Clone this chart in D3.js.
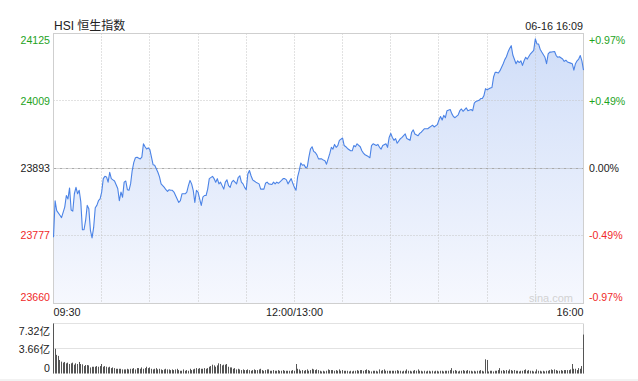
<!DOCTYPE html>
<html><head><meta charset="utf-8">
<script src="https://cdn.jsdelivr.net/npm/d3@7/dist/d3.min.js"></script>
<style>
body{margin:0;background:#fff}
svg{display:block}
text{font-family:"Liberation Sans",Arial,"Noto Sans CJK SC",sans-serif}
</style>
</head><body>
<svg id="c" width="638" height="381"></svg>
<script>
// ---- data ----
const title = "HSI 恒生指数";
const stamp = "06-16 16:09";
const prevClose = 23893;
const priceTicks = [23660, 23777, 23893, 24009, 24125];
const priceTickLabels = ["23660", "23777", "23893", "24009", "24125"];
const pctTickLabels = ["-0.97%", "-0.49%", "0.00%", "+0.49%", "+0.97%"];
const timeGrid = [30, 60, 90, 120, 150, 180, 210, 240, 270, 300];
const timeLabelMinutes = [0, 150, 330];
const timeLabels = ["09:30", "12:00/13:00", "16:00"];
const volTicks = [0, 3.66, 7.32];
const volTickLabels = ["0", "3.66亿", "7.32亿"];

// trading minutes since 09:30 (lunch break removed)
const minutes = [0,1,2,4,5,6,7,8,9,10,11,12,13,14,15,16,17,18,19,20,21,22,23,24,25,26,27,28,29,30,
31,32,33,34,35,36,37,38,40,41,42,43,44,45,46,47,48,49,50,51,52,54,55,56,57,58,59,60,
61,62,63,64,65,66,67,68,69,70,71,72,73,74,75,77,78,79,80,82,83,84,85,86,87,88,89,90,
91,92,93,94,95,96,97,99,100,101,102,103,104,105,106,107,108,109,110,111,112,114,115,116,117,118,119,120,
121,122,123,124,125,126,128,129,131,132,133,134,136,137,138,139,140,142,143,144,145,146,148,149,150,
151,152,153,154,155,156,157,158,159,160,161,162,163,164,165,167,168,169,170,172,173,174,175,176,177,178,180,
181,182,183,185,186,187,188,189,191,192,193,194,196,197,198,199,201,202,203,204,205,207,208,209,210,
211,212,213,214,216,217,218,219,220,222,223,224,225,227,228,229,230,231,233,234,235,236,237,239,240,
241,242,243,244,245,247,248,249,250,252,253,254,255,256,257,258,260,261,262,263,265,266,267,268,269,270,
272,273,274,275,276,277,278,280,281,282,283,284,285,286,288,289,290,291,292,293,294,295,297,298,299,300,
301,302,303,304,306,307,308,309,310,312,313,314,315,317,318,319,320,322,323,324,325,326,327,328,329,330];
const prices = [23774,23837,23820,23812,23808,23817,23826,23846,23840,23859,23821,23819,23849,23860,23849,23855,23835,23787,23787,23803,23829,23823,23786,23773,23791,23825,23829,23837,23840,23852,
23875,23879,23878,23869,23886,23875,23873,23871,23858,23837,23852,23843,23869,23871,23856,23855,23866,23889,23903,23911,23912,23909,23912,23935,23930,23926,23928,23925,
23912,23899,23898,23892,23886,23878,23866,23863,23860,23856,23853,23856,23855,23855,23852,23840,23834,23837,23849,23849,23852,23863,23872,23866,23855,23834,23855,23852,
23840,23829,23843,23846,23846,23857,23875,23879,23875,23869,23875,23866,23869,23863,23857,23869,23873,23863,23860,23869,23872,23866,23877,23880,23869,23866,23860,23856,
23883,23889,23880,23873,23871,23869,23866,23857,23857,23867,23869,23866,23865,23869,23866,23869,23867,23872,23875,23875,23873,23866,23875,23867,23860,
23855,23878,23889,23902,23898,23899,23894,23895,23912,23926,23930,23922,23920,23916,23909,23909,23907,23906,23900,23918,23929,23926,23934,23929,23932,23941,23945,
23932,23930,23927,23923,23923,23932,23930,23935,23930,23923,23919,23916,23913,23911,23932,23935,23932,23934,23929,23926,23932,23935,23929,23946,23953,
23946,23941,23944,23936,23944,23946,23949,23952,23944,23941,23955,23959,23952,23949,23953,23955,23958,23961,23961,23963,23965,23967,23964,23968,23976,
23982,23976,23984,23980,23992,23994,23987,23982,23980,23985,23992,23995,23991,23994,23997,23992,23994,23992,24005,24008,24010,24013,24013,24018,24030,24028,
24031,24032,24050,24058,24058,24057,24061,24073,24080,24085,24093,24099,24104,24088,24073,24078,24075,24078,24070,24078,24084,24081,24090,24093,24096,24116,
24107,24107,24098,24093,24084,24073,24090,24093,24093,24094,24087,24084,24085,24081,24077,24079,24076,24074,24073,24062,24073,24078,24081,24087,24078,24062];

// volume per minute, 亿 (index = trading minute)
const volumes = [7.32,3.62,2.73,2.58,1.98,1.74,1.59,1.69,1.49,1.59,1.39,1.49,1.59,1.29,1.49,1.39,1.69,1.39,1.34,1.09,1.24,1.24,1.19,0.89,0.99,0.99,0.99,
1.09,0.99,1.09,1.39,0.99,1.09,0.99,0.89,0.99,0.79,0.89,0.79,0.69,0.69,0.69,0.69,0.60,0.60,0.60,0.69,0.60,0.69,0.69,0.79,0.60,0.79,0.79,
0.69,0.89,0.69,0.79,0.99,0.79,0.89,0.69,0.60,0.69,0.79,0.60,0.69,0.60,0.50,0.60,0.69,0.60,0.60,0.50,0.60,0.50,0.60,0.69,0.50,0.40,0.40,
0.60,0.40,0.50,0.40,0.69,0.50,0.60,0.69,0.79,0.69,0.79,0.69,0.69,0.79,0.69,0.79,0.99,1.09,1.29,1.19,0.99,1.19,1.49,1.39,1.19,1.29,1.29,
1.39,0.99,0.89,0.89,0.69,0.79,0.60,0.69,0.60,0.50,0.60,0.50,0.50,0.60,0.50,0.40,0.50,0.60,0.50,0.50,0.60,0.69,0.50,0.40,0.50,0.60,0.60,
0.40,0.40,0.50,0.40,0.40,0.50,0.40,0.40,0.50,0.40,0.40,0.40,0.40,0.40,0.50,0.40,
1.39,0.69,0.60,0.40,0.50,0.40,0.50,0.60,0.40,0.50,0.69,0.60,0.50,0.60,0.50,
0.40,0.30,0.40,0.30,0.40,0.60,0.50,0.50,0.50,0.40,0.50,0.40,0.60,0.40,0.50,0.40,0.40,0.40,0.30,0.40,0.30,0.40,0.40,0.50,0.40,0.50,0.50,
0.40,0.50,0.60,0.50,0.40,0.30,0.40,0.40,0.40,0.30,0.60,0.40,0.50,0.60,0.40,0.40,0.40,0.40,0.40,0.40,0.40,0.50,0.40,0.40,0.30,0.40,0.40,
0.60,0.40,0.40,0.30,0.40,0.50,0.40,0.60,0.40,0.40,0.30,0.40,0.30,0.40,0.40,0.30,0.40,0.30,0.40,0.40,0.30,0.40,0.40,0.30,0.40,0.40,0.40,
0.50,0.79,0.40,0.50,0.40,0.30,0.40,0.40,0.50,0.40,0.40,0.50,0.40,0.40,0.30,0.40,0.30,0.40,0.40,0.50,0.40,0.30,2.08,1.98,0.30,0.40,0.40,
0.30,0.40,0.40,0.50,0.79,0.40,0.50,0.40,0.50,0.40,0.60,0.50,0.40,0.50,0.40,0.40,0.30,0.40,0.40,0.50,0.60,0.40,0.50,0.40,0.40,0.30,0.30,
0.60,0.40,0.40,0.30,0.40,0.30,0.40,0.40,0.50,0.60,0.50,0.60,0.50,0.40,0.40,0.50,0.40,0.50,0.50,0.50,0.50,0.60,1.39,0.69,0.69,0.50,0.79,0.69,1.09,
5.70];

// ---- layout ----
const svg = d3.select("#c");
const L = 53.5, R = 583.5, T = 33.5, B = 303.5;
const VT = 323.5, VB = 373.5;
const green = "#1ea31e", red = "#f02a2a", black = "#222";

const x = d3.scaleLinear().domain([0, 330]).range([L, R]);
const y = d3.scaleLinear().domain([23660, 24125]).range([B, T]);
const yv = d3.scaleLinear().domain([0, 7.32]).range([VB, VT]);
const snap = v => Math.round(v - 0.5) + 0.5;
const col = v => v > prevClose ? green : (v < prevClose ? red : black);

// bottom strip
svg.append("rect").attr("x", 0).attr("y", 379).attr("width", 638).attr("height", 2).attr("fill", "#f2f2f2");

// gradient
const defs = svg.append("defs");
const g = defs.append("linearGradient").attr("id", "fill").attr("gradientUnits", "userSpaceOnUse")
  .attr("x1", 0).attr("x2", 0).attr("y1", T).attr("y2", B);
g.append("stop").attr("offset", 0).attr("stop-color", "#cfddf8");
g.append("stop").attr("offset", 1).attr("stop-color", "#f6f8fe");

const data = minutes.map((m, i) => ({m, v: prices[i]}));

// area
svg.append("path").datum(data)
  .attr("d", d3.area().x(d => x(d.m)).y0(B).y1(d => y(d.v)))
  .attr("fill", "url(#fill)");

// grid: vertical
svg.append("g").selectAll("line").data(timeGrid).join("line")
  .attr("x1", d => snap(x(d))).attr("x2", d => snap(x(d)))
  .attr("y1", T).attr("y2", B)
  .attr("stroke", "#c4c4c4").attr("stroke-dasharray", "1,2");
// grid: horizontal
svg.append("g").selectAll("line").data(priceTicks.slice(1, 4)).join("line")
  .attr("x1", L).attr("x2", R)
  .attr("y1", d => snap(y(d))).attr("y2", d => snap(y(d)))
  .attr("stroke", d => d === prevClose ? "#aaa" : "#c4c4c4")
  .attr("stroke-dasharray", d => d === prevClose ? "3,1,1,1" : "1,2");

// frame
svg.append("rect").attr("x", L).attr("y", T).attr("width", R - L).attr("height", B - T)
  .attr("fill", "none").attr("stroke", "#cfcfcf");

// line
svg.append("path").datum(data)
  .attr("d", d3.line().x(d => x(d.m)).y(d => y(d.v)))
  .attr("fill", "none").attr("stroke", "#4b83e6").attr("stroke-width", 1.1)
  .attr("stroke-linejoin", "round");

// watermark
svg.append("text").attr("x", 573).attr("y", 302).attr("text-anchor", "end")
  .attr("font-size", 11).attr("fill", "#d2d2d2").text("sina.com");

// price labels
const lblY = (d, i) => i === 0 ? y(d) - 6.5 : (i === priceTicks.length - 1 ? y(d) + 6.5 : y(d));
svg.append("g").selectAll("text").data(priceTicks).join("text")
  .attr("x", 50).attr("y", (d, i) => lblY(d, i)).attr("dy", "0.36em")
  .attr("text-anchor", "end").attr("font-size", 10.6)
  .attr("fill", d => col(d)).text((d, i) => priceTickLabels[i]);
svg.append("g").selectAll("text").data(priceTicks).join("text")
  .attr("x", 589).attr("y", (d, i) => lblY(d, i)).attr("dy", "0.36em")
  .attr("text-anchor", "start").attr("font-size", 10.6)
  .attr("fill", d => col(d)).text((d, i) => pctTickLabels[i]);

// title & stamp
svg.append("text").attr("x", 54).attr("y", 30).attr("font-size", 12).attr("fill", "#222")
  .style("font-family", "'Liberation Sans','Noto Sans CJK SC',sans-serif").text(title);
svg.append("text").attr("x", 583).attr("y", 30).attr("text-anchor", "end").attr("font-size", 10.8)
  .attr("fill", "#222").text(stamp);

// time labels
svg.append("g").selectAll("text").data(timeLabelMinutes).join("text")
  .attr("x", d => x(d)).attr("y", 316)
  .attr("text-anchor", (d, i) => i === 0 ? "start" : (i === timeLabelMinutes.length - 1 ? "end" : "middle"))
  .attr("font-size", 10.8).attr("fill", "#222").text((d, i) => timeLabels[i]);

// volume grid
svg.append("g").selectAll("line").data(volTicks.slice(1)).join("line")
  .attr("x1", L).attr("x2", R).attr("y1", d => snap(yv(d))).attr("y2", d => snap(yv(d)))
  .attr("stroke", "#c4c4c4").attr("stroke-dasharray", "1,1");
svg.append("line").attr("x1", L).attr("x2", L).attr("y1", VT).attr("y2", VB).attr("stroke", "#cfcfcf");
svg.append("line").attr("x1", R).attr("x2", R).attr("y1", VT).attr("y2", VB).attr("stroke", "#cfcfcf");

// volume bars
svg.append("g").selectAll("rect").data(volumes).join("rect")
  .attr("x", (d, i) => Math.round(x(i) - 0.5)).attr("width", 1)
  .attr("y", d => yv(d)).attr("height", d => VB - yv(d))
  .attr("fill", "#555");

// volume labels
svg.append("g").selectAll("text").data(volTicks).join("text")
  .attr("x", 50).attr("y", (d, i) => i === 0 ? yv(d) - 5.5 : (i === volTicks.length - 1 ? yv(d) + 8 : yv(d) + 1))
  .attr("dy", "0.36em").attr("text-anchor", "end").attr("font-size", 10.6).attr("fill", "#222")
  .style("font-family", "'Liberation Sans','Noto Sans CJK SC',sans-serif")
  .text((d, i) => volTickLabels[i]);
</script>
</body></html>
